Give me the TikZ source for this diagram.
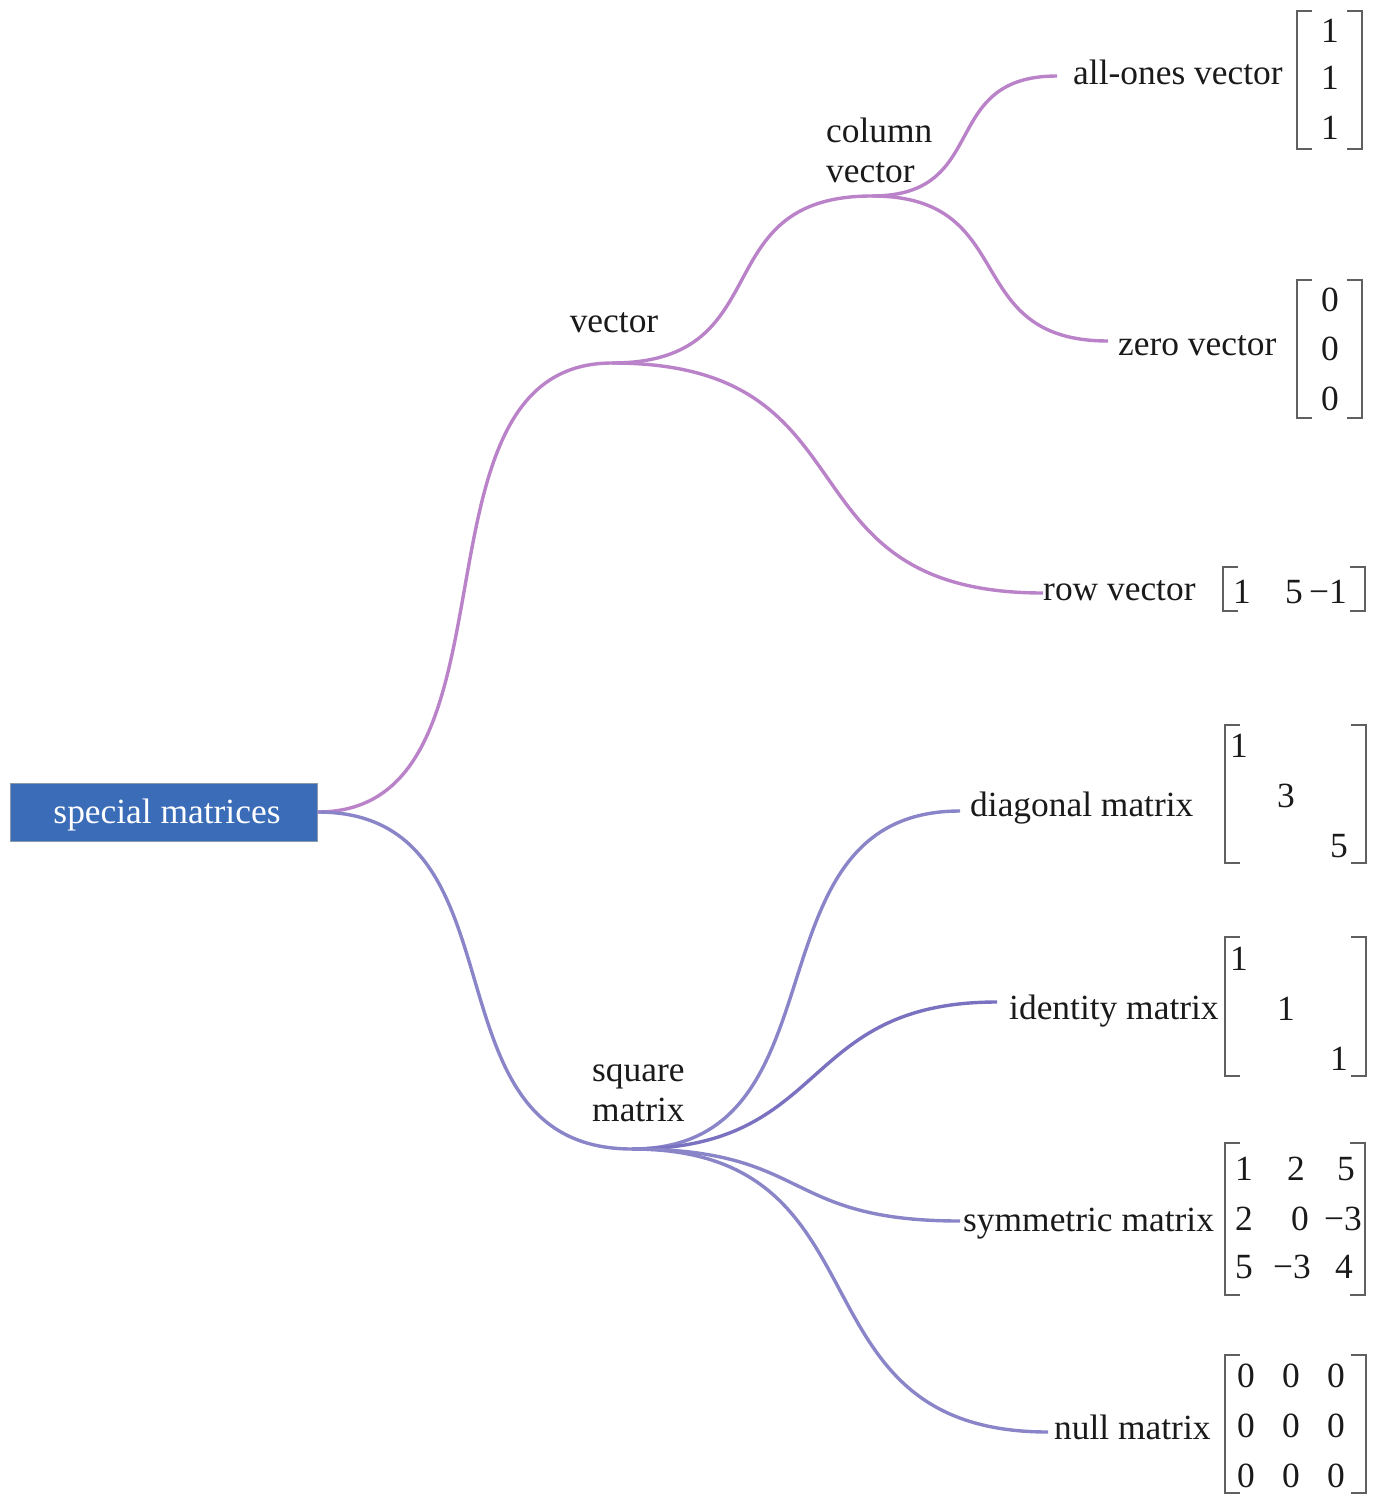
\documentclass[tikz,border=0pt]{standalone}
\usepackage{fontspec}
\setmainfont{Liberation Serif}
\definecolor{vecc}{HTML}{BA82C8}
\definecolor{sqc}{HTML}{8A84C8}
\definecolor{idc}{HTML}{7A72C0}
\definecolor{rootfill}{HTML}{3A6CB8}
\definecolor{rootdraw}{HTML}{8A9AAA}
\definecolor{brc}{HTML}{606060}
\definecolor{txt}{HTML}{1A1A1A}
\newcommand\mybrackets[4]{%
  \draw[brk] (#1+15,#3) -- (#1,#3) -- (#1,#4) -- (#1+15,#4);
  \draw[brk] (#2-15,#3) -- (#2,#3) -- (#2,#4) -- (#2-15,#4);}
\newcommand\ent[4]{\node[entry] (#1) at (#2,#3) {#4};}
\begin{document}
\begin{tikzpicture}[x=1pt,y=-1pt,
  every node/.style={font=\fontsize{35.4}{40}\selectfont, text=txt, inner sep=0pt},
  lbl/.style={anchor=base west},
  lbl2/.style={anchor=north west, align=left},
  entry/.style={anchor=base},
  rootbox/.style={fill=rootfill, draw=rootdraw, line width=1pt, text=white,
    minimum width=307pt, minimum height=58pt},
  vline/.style={draw=vecc, line width=3.4pt},
  sline/.style={draw=sqc, line width=3.4pt},
  iline/.style={draw=idc, line width=3.4pt},
  brk/.style={draw=brc, line width=1.6pt}]
\useasboundingbox (0,0) rectangle (1382,1511);

% root
\node[rootbox] (root) at (163.5,812) {\hspace*{7pt}\raisebox{-3pt}[\height][\depth]{special matrices}};

% junction points
\coordinate (vecpt) at (612,363);
\coordinate (colpt) at (872,196);
\coordinate (sqpt) at (632,1149);
\coordinate (onespt) at (1057,76);
\coordinate (zeropt) at (1108,341);
\coordinate (rowpt) at (1043,593);
\coordinate (diagpt) at (960,811);
\coordinate (idpt) at (997,1002);
\coordinate (sympt) at (960,1221);
\coordinate (nullpt) at (1048,1432);

% labels
\node[anchor=base] (vec) at (614,332) {vector};
\node[lbl2] (col) at (826,118) {column\\vector};
\node[lbl2] (sq) at (592,1064) {square\\matrix};
\node[lbl] (ones) at (1073,85) {all-ones vector};
\node[lbl] (zero) at (1118,355) {zero vector};
\node[lbl] (row) at (1043,600) {row vector};
\node[lbl] (diag) at (970,816) {diagonal matrix};
\node[lbl] (ident) at (1009,1019) {identity matrix};
\node[lbl] (sym) at (963,1231) {symmetric matrix};
\node[lbl] (null) at (1054,1439) {null matrix};

% connectors
\draw[vline] (root.east) .. controls +(215,0) and +(-215,0) .. (vecpt);
\draw[sline] (root.east) .. controls +(215,0) and +(-215,0) .. (sqpt);
\draw[vline] (vecpt) .. controls +(170,0) and +(-170,0) .. (colpt);
\draw[vline] (vecpt) .. controls +(270,0) and +(-270,0) .. (rowpt);
\draw[vline] (colpt) .. controls +(120,0) and +(-120,0) .. (onespt);
\draw[vline] (colpt) .. controls +(150,0) and +(-150,0) .. (zeropt);
\draw[sline] (sqpt) .. controls +(220,0) and +(-220,0) .. (diagpt);
\draw[iline] (sqpt) .. controls +(200,0) and +(-200,0) .. (idpt);
\draw[sline] (sqpt) .. controls +(180,0) and +(-180,0) .. (sympt);
\draw[sline] (sqpt) .. controls +(265,0) and +(-265,0) .. (nullpt);

% all-ones vector matrix
\mybrackets{1297}{1362}{11}{149}
\ent{a1}{1330}{43}{1}
\ent{a2}{1330}{90}{1}
\ent{a3}{1330}{140}{1}

% zero vector matrix
\mybrackets{1297}{1362}{280}{418}
\ent{z1}{1330}{312}{0}
\ent{z2}{1330}{360}{0}
\ent{z3}{1330}{410}{0}

% row vector matrix
\mybrackets{1223}{1365}{567}{611}
\ent{r1}{1242}{603}{1}
\ent{r2}{1294}{603}{5}
\ent{r3}{1328}{603}{−1}

% diagonal matrix
\mybrackets{1225}{1366}{725}{863}
\ent{d1}{1239}{757}{1}
\ent{d2}{1286}{807}{3}
\ent{d3}{1339}{857}{5}

% identity matrix
\mybrackets{1225}{1366}{937}{1076}
\ent{i1}{1239}{970}{1}
\ent{i2}{1286}{1020}{1}
\ent{i3}{1339}{1070}{1}

% symmetric matrix
\mybrackets{1225}{1365}{1143}{1295}
\ent{s11}{1244}{1180}{1}
\ent{s12}{1296}{1180}{2}
\ent{s13}{1346}{1180}{5}
\ent{s21}{1244}{1230}{2}
\ent{s22}{1300}{1230}{0}
\ent{s23}{1343}{1230}{−3}
\ent{s31}{1244}{1278}{5}
\ent{s32}{1292}{1278}{−3}
\ent{s33}{1344}{1278}{4}

% null matrix
\mybrackets{1225}{1366}{1355}{1493}
\ent{n11}{1246}{1387}{0}
\ent{n12}{1291}{1387}{0}
\ent{n13}{1336}{1387}{0}
\ent{n21}{1246}{1437}{0}
\ent{n22}{1291}{1437}{0}
\ent{n23}{1336}{1437}{0}
\ent{n31}{1246}{1487}{0}
\ent{n32}{1291}{1487}{0}
\ent{n33}{1336}{1487}{0}
\end{tikzpicture}
\end{document}
